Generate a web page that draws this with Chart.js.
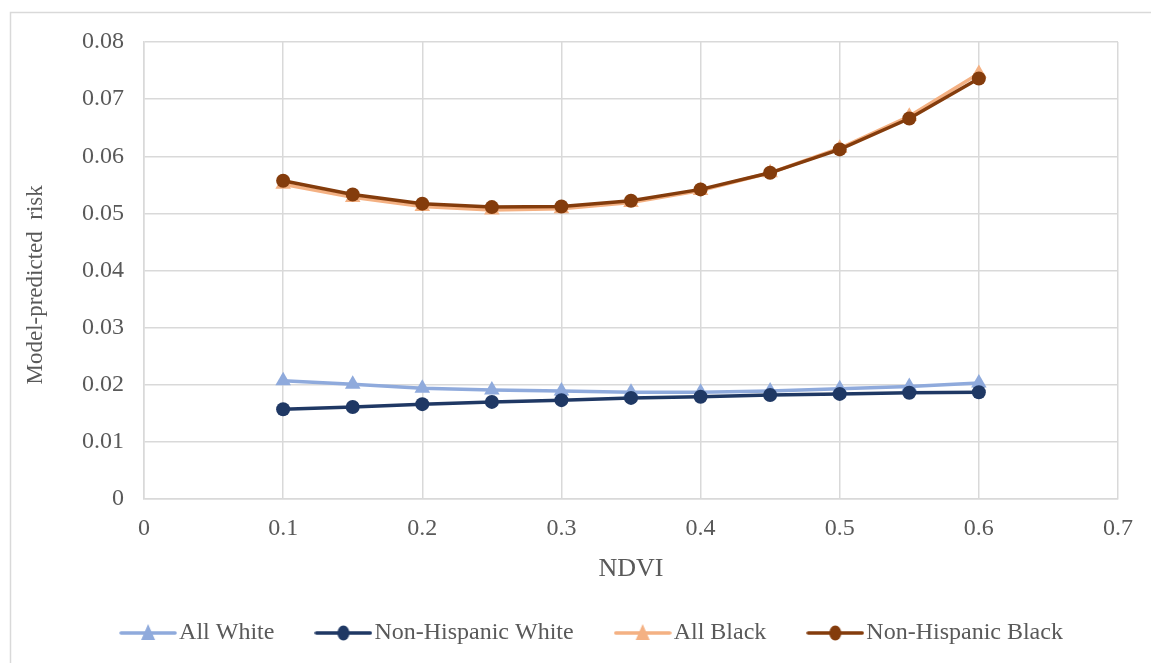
<!DOCTYPE html>
<html>
<head>
<meta charset="utf-8">
<title>Model-predicted risk by NDVI</title>
<script src="https://cdn.jsdelivr.net/npm/chart.js@4.4.1/dist/chart.umd.min.js"></script>
<style>
  html, body { margin: 0; padding: 0; background: #ffffff; }
  #wrap { position: relative; width: 1151px; height: 663px; }
  canvas { display: block; }
</style>
</head>
<body>
<div id="wrap"><canvas id="chart" width="1151" height="663"></canvas></div>
<script>
// NDVI levels on the x axis
const ndvi = [0.1, 0.15, 0.2, 0.25, 0.3, 0.35, 0.4, 0.45, 0.5, 0.55, 0.6];

// Model-predicted risk for each group
const allWhite         = [0.0207, 0.0201, 0.0194, 0.0191, 0.0189, 0.0187, 0.0187, 0.0189, 0.0193, 0.0197, 0.0203];
const nonHispanicWhite = [0.0157, 0.0161, 0.0166, 0.0170, 0.0173, 0.0177, 0.0179, 0.0182, 0.0184, 0.0186, 0.0187];
const allBlack         = [0.0551, 0.0528, 0.0512, 0.0506, 0.0508, 0.0519, 0.0540, 0.0571, 0.0614, 0.0670, 0.0745];
const nonHispanicBlack = [0.0557, 0.0533, 0.0517, 0.0511, 0.0512, 0.0522, 0.0542, 0.0571, 0.0612, 0.0666, 0.0736];

// Axis tick values
const xTicks = [0, 0.1, 0.2, 0.3, 0.4, 0.5, 0.6, 0.7];
const yTicks = [0, 0.01, 0.02, 0.03, 0.04, 0.05, 0.06, 0.07, 0.08];

const seriesNames = ['All White', 'Non-Hispanic White', 'All Black', 'Non-Hispanic Black'];
const seriesValues = [allWhite, nonHispanicWhite, allBlack, nonHispanicBlack];
const seriesColors = ['#8faadc', '#1f3864', '#f4b183', '#843c0c'];
const seriesMarkers = ['triangle', 'circle', 'triangle', 'circle'];

const FONT = '"Liberation Serif", "Times New Roman", serif';
const TEXT = '#595959';
const GRID = '#d9d9d9';

// Small line-plus-marker swatch for each legend entry
function legendSwatch(color, marker) {
  const c = document.createElement('canvas');
  c.width = 58; c.height = 20;
  const g = c.getContext('2d');
  g.strokeStyle = color;
  g.lineWidth = 3.5;
  g.lineCap = 'round';
  g.beginPath(); g.moveTo(2, 10); g.lineTo(56, 10); g.stroke();
  g.fillStyle = color;
  g.beginPath();
  if (marker === 'circle') {
    g.ellipse(29, 10, 6, 7.5, 0, 0, Math.PI * 2);
  } else {
    g.moveTo(29, 1); g.lineTo(36, 17); g.lineTo(22, 17); g.closePath();
  }
  g.fill();
  return c;
}

const datasets = seriesNames.map((name, i) => ({
  label: name,
  data: ndvi.map((x, j) => ({ x: x, y: seriesValues[i][j] })),
  borderColor: seriesColors[i],
  backgroundColor: seriesColors[i],
  borderWidth: 3.5,
  pointStyle: seriesMarkers[i],
  pointRadius: seriesMarkers[i] === 'circle' ? 7 : 9,
  pointBorderWidth: 0,
  pointHoverRadius: 8,
  tension: 0,
  fill: false,
  order: seriesNames.length - i
}));

// Light frame around the chart
const framePlugin = {
  id: 'frame',
  beforeDraw(chart) {
    const ctx = chart.ctx;
    ctx.save();
    ctx.strokeStyle = GRID;
    ctx.lineWidth = 1.5;
    ctx.beginPath();
    ctx.moveTo(10.5, chart.height);
    ctx.lineTo(10.5, 12.5);
    ctx.lineTo(chart.width, 12.5);
    ctx.stroke();
    ctx.restore();
  }
};

new Chart(document.getElementById('chart'), {
  type: 'line',
  data: { datasets: datasets },
  plugins: [framePlugin],
  options: {
    responsive: false,
    animation: false,
    layout: { padding: { top: 42, right: 33, left: 74, bottom: 8 } },
    scales: {
      x: {
        type: 'linear',
        min: 0, max: 0.7,
        afterBuildTicks: s => { s.ticks = xTicks.map(v => ({ value: v })); },
        afterFit: s => { s.height = 72; },
        grid: { color: GRID, lineWidth: 1.5, drawTicks: false },
        border: { color: GRID, width: 1.5 },
        ticks: {
          padding: 15,
          color: TEXT,
          font: { family: FONT, size: 24 },
          callback: v => String(Number(v.toFixed(2)))
        },
        title: {
          display: true,
          text: 'NDVI',
          color: TEXT,
          font: { family: FONT, size: 26 },
          padding: { top: 0, bottom: -14 }
        }
      },
      y: {
        type: 'linear',
        min: 0, max: 0.08,
        afterBuildTicks: s => { s.ticks = yTicks.map(v => ({ value: v })); },
        afterFit: s => { s.width = 70; },
        grid: { color: GRID, lineWidth: 1.5, drawTicks: false },
        border: { color: GRID, width: 1.5 },
        ticks: {
          padding: 20,
          color: TEXT,
          font: { family: FONT, size: 24 },
          callback: v => String(Number(v.toFixed(2)))
        },
        title: {
          display: true,
          text: 'Model-predicted  risk     ',
          color: TEXT,
          font: { family: FONT, size: 23 },
          padding: { top: -52, bottom: 0 }
        }
      }
    },
    plugins: {
      tooltip: { enabled: false },
      legend: {
        display: true,
        position: 'bottom',
        labels: {
          usePointStyle: true,
          pointStyleWidth: 38,
          padding: 50,
          color: TEXT,
          font: { family: FONT, size: 24 },
          generateLabels: chart => chart.data.datasets.map((ds, i) => ({
            text: ds.label,
            fillStyle: ds.borderColor,
            strokeStyle: ds.borderColor,
            fontColor: TEXT,
            lineWidth: 0,
            pointStyle: legendSwatch(seriesColors[i], seriesMarkers[i]),
            hidden: false,
            datasetIndex: i
          }))
        }
      }
    }
  }
});
</script>
</body>
</html>
